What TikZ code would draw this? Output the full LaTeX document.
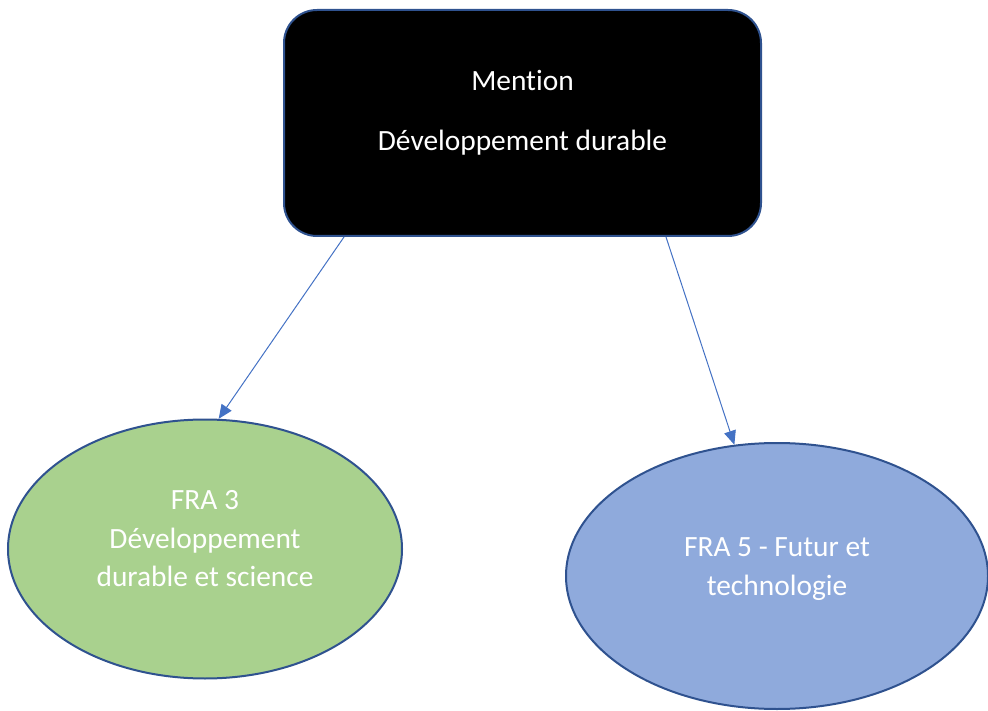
\documentclass[tikz,border=0pt]{standalone}
\usepackage{fontspec}
\setmainfont{Carlito}[Ligatures={NoCommon}]
\usetikzlibrary{shapes.geometric, arrows.meta}
\definecolor{borderColor}{RGB}{47,82,143}
\definecolor{arrowColor}{RGB}{68,114,196}
\definecolor{greenFill}{RGB}{169,209,142}
\definecolor{blueFill}{RGB}{143,170,220}
\tikzstyle{diagram} = [x = 1pt, y = -1pt]
\tikzstyle{mentionStyle} = [draw=borderColor, fill=black, line width=2pt, rounded corners=33pt, minimum width=477pt, minimum height=226pt, inner sep=0pt]
\tikzstyle{ellipseStyle} = [ellipse, draw=borderColor, line width=2pt, inner sep=0pt]
\tikzstyle{whiteText} = [text=white, align=center, font=\fontsize{29.4}{38.5}\selectfont, inner sep=0pt]
\tikzstyle{linkArrow} = [draw=arrowColor, line width=1pt, -{Triangle[length=14pt, width=12pt]}]

\begin{document}
\begin{tikzpicture}[diagram]
  \useasboundingbox (0,0) rectangle (988,711);
  \node [mentionStyle] (mention) at (522.5,123) {};
  \node [whiteText, anchor=base] (mentionTitle) at (522.5,91) {Mention};
  \node [whiteText, anchor=base] (mentionName) at (522.5,151) {Développement durable};

  \node [ellipseStyle, fill=greenFill, minimum width=394pt, minimum height=259pt] (fra3) at (205,549) {};
  \node [whiteText, anchor=center] (fra3Text) at (205,539) {FRA 3\\Développement\\durable et science};

  \node [ellipseStyle, fill=blueFill, minimum width=422pt, minimum height=266pt] (fra5) at (777,576) {};
  \node [whiteText, anchor=center] (fra5Text) at (777,569) {FRA 5 - Futur et\\technologie};

  \draw [linkArrow] ([xshift=61pt]mention.south west) -- (fra3.84);
  \draw [linkArrow] ([xshift=-96pt]mention.south east) -- (fra5.108);
\end{tikzpicture}
\end{document}
